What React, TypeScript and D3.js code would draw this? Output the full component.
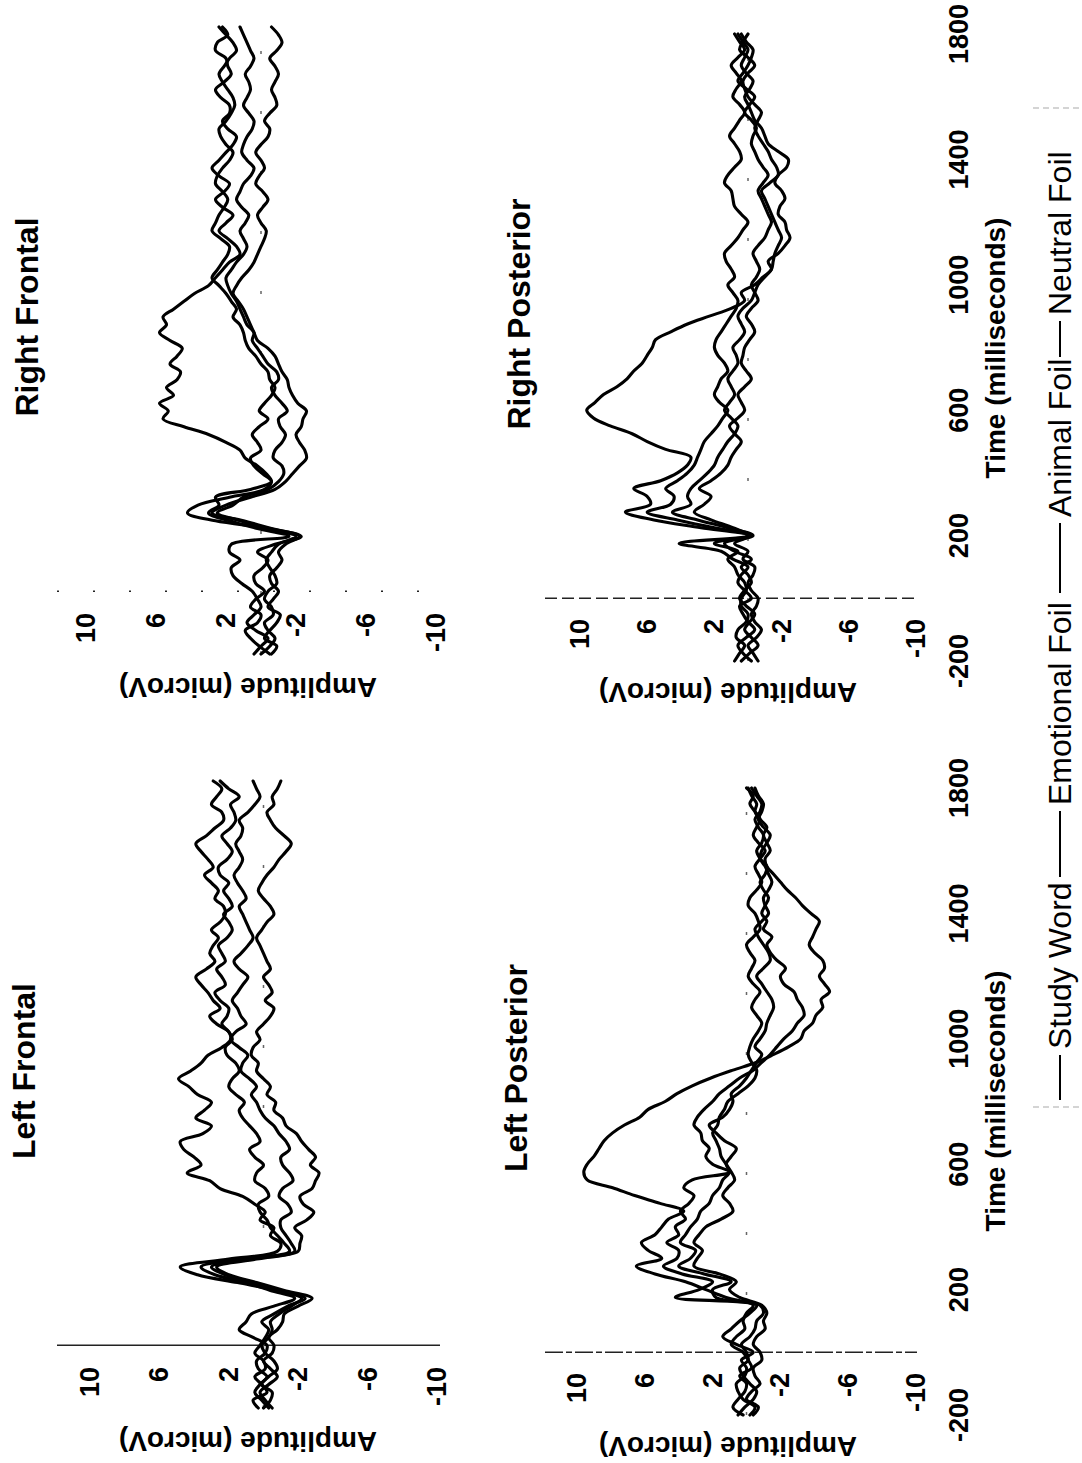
import React from 'react';
import * as d3 from 'd3';

// ---------- data (microvolts, sampled every 25 ms from -200 to 1800 ms) ----------
const times = d3.range(-200, 1801, 25);

const seriesNames = ['Study Word', 'Emotional Foil', 'Animal Foil', 'Neutral Foil'];
const ampTicks = [10, 6, 2, -2, -6, -10];
const timeTicks = [-200, 200, 600, 1000, 1400, 1800];

// Left Frontal
const lfStudy = [0.3,0.6,-0.2,0.1,0.5,-0.1,0.0,0.5,0.2,-0.1,-0.3,0.1,-0.6,
  -1.4,-2.4,-0.8,1.5,3.8,4.8,2.0,-0.8,-1.0,-0.4,
  -0.6,0.2,-0.1,0.5,1.2,2.5,3.1,4.4,3.6,4.0,4.6,4.8,3.5,3.0,3.9,3.4,3.0,3.8,4.3,4.9,4.2,3.6,3.2,2.4,1.9,2.0,2.7,3.1,2.5,2.9,3.2,3.6,3.9,3.3,2.8,3.1,2.9,2.6,3.0,2.5,2.2,2.3,2.8,2.6,3.0,3.4,2.9,3.2,3.6,3.9,3.3,2.8,2.3,2.4,3.0,2.7,2.4,2.9];
const lfEmotional = [-0.3,0.1,0.5,0.2,-0.2,0.3,0.4,-0.1,-0.2,0.6,1.4,1.0,0.7,
  -0.6,-1.8,-0.4,1.0,2.8,3.6,1.2,-1.5,-1.2,-0.8,
  -0.4,-0.2,0.2,0.3,-0.3,-0.1,0.5,0.4,0.0,0.5,0.8,0.2,0.4,0.8,1.2,1.4,1.1,1.6,2.0,1.8,1.4,1.6,2.1,2.2,1.8,2.0,2.4,2.1,2.0,2.5,2.8,2.2,2.4,2.7,2.2,2.4,2.6,2.1,1.8,2.0,2.3,1.8,2.0,2.3,2.0,2.5,2.6,2.1,1.8,2.1,2.4,1.9,1.6,1.7,1.9,1.4,2.0,2.5];
const lfAnimal = [0.0,-0.4,-0.5,0.1,-0.3,-0.8,-0.6,-0.1,0.1,-0.3,-0.5,-0.4,-0.9,
  -1.6,-2.2,-0.6,0.6,2.2,3.0,0.8,-1.8,-1.6,-1.3,
  -1.0,-1.0,-1.6,-1.4,-0.9,-1.1,-1.7,-1.5,-1.1,-1.0,-1.5,-1.3,-0.9,-0.6,-0.1,0.2,0.4,0.7,0.4,0.8,1.3,1.2,0.9,1.4,1.9,1.6,1.0,1.3,1.5,1.8,1.5,1.2,0.9,1.4,1.7,1.3,0.9,0.6,0.8,1.0,1.2,1.4,1.0,1.2,1.5,1.7,1.4,1.2,1.4,1.6,1.3,1.2,1.4,0.9,0.5,0.2,0.4,0.6];
const lfNeutral = [-0.5,-0.1,0.2,-0.3,-0.8,-0.4,0.0,-0.5,-0.6,-0.3,-0.8,-1.1,-1.2,
  -2.0,-2.8,-1.2,0.4,2.0,2.7,0.4,-2.0,-2.1,-2.2,
  -1.8,-2.5,-2.9,-2.3,-2.1,-2.8,-3.0,-3.2,-2.7,-3.0,-2.6,-2.2,-1.9,-1.3,-1.1,-0.6,-0.7,-0.2,-0.4,0.0,0.4,0.3,0.7,0.6,0.2,0.4,0.0,-0.4,-0.6,-0.1,-0.5,-0.3,0.0,-0.4,-0.2,0.0,0.2,0.4,0.1,-0.2,-0.6,-0.4,0.0,0.3,0.1,-0.2,-0.6,-0.9,-1.3,-1.6,-1.2,-0.7,-0.4,-0.2,-0.6,-0.5,-0.8,-1.0];

// Left Posterior
const lpStudy = [0.2,0.8,0.5,0.1,0.0,0.4,-0.3,-0.1,0.2,0.9,0.6,0.1,0.2,
  0.0,-0.4,1.2,2.4,3.6,5.4,6.5,5.0,5.8,6.2,
  5.4,5.0,4.6,3.7,5.1,6.6,7.9,9.4,9.6,9.4,9.0,8.7,8.4,7.9,7.2,6.3,5.8,4.8,4.1,3.2,2.1,0.8,-0.6,-1.6,-2.5,-3.2,-3.4,-3.9,-4.1,-4.5,-4.4,-4.9,-4.6,-4.3,-4.6,-4.5,-4.0,-3.7,-3.9,-4.1,-4.3,-3.8,-3.3,-2.9,-2.4,-2.0,-1.6,-1.2,-1.1,-1.4,-1.2,-1.0,-1.2,-0.8,-0.5,-0.6,-0.3,-0.1];
const lpEmotional = [-0.2,-0.5,0.2,0.5,0.6,0.1,0.0,0.3,-0.4,0.6,1.4,0.9,0.4,
  -0.2,-0.6,4.2,2.8,2.0,3.8,4.9,4.1,4.0,4.7,
  4.0,4.2,3.6,3.9,3.4,3.1,3.7,3.2,1.0,2.0,2.4,2.2,2.6,2.7,3.1,2.9,2.5,2.0,1.6,1.0,0.4,-0.4,-0.9,-1.4,-1.8,-2.2,-2.7,-3.0,-3.4,-3.3,-3.0,-2.8,-2.2,-2.0,-2.3,-1.8,-1.4,-1.2,-1.5,-1.0,-1.2,-0.9,-1.1,-1.3,-1.0,-0.8,-1.1,-1.2,-0.8,-0.6,-0.9,-1.0,-0.7,-0.5,-0.8,-0.9,-0.6,-0.3];
const lpAnimal = [0.5,0.1,-0.4,-0.6,-0.2,0.2,0.4,-0.1,0.0,0.3,-0.2,-0.5,-0.6,
  -1.0,-0.8,1.8,2.0,0.9,2.5,4.0,3.3,3.0,3.9,
  3.6,3.3,2.9,2.7,2.2,2.0,1.6,1.4,1.0,1.2,0.9,0.6,1.3,1.8,2.2,1.4,1.0,0.8,0.9,0.4,0.0,-0.3,-0.6,-0.9,-0.5,-0.8,-1.1,-1.2,-1.4,-1.6,-1.5,-1.2,-0.9,-0.6,-1.0,-1.4,-1.3,-1.0,-0.7,-0.5,-0.9,-1.3,-1.1,-1.0,-1.3,-1.5,-1.3,-1.1,-0.8,-0.9,-1.2,-1.4,-1.0,-0.7,-0.9,-1.0,-0.7,-0.5];
const lpNeutral = [-0.4,-0.7,0.0,-0.3,-0.8,-0.5,-0.4,-0.9,-0.8,-0.4,-0.6,-1.1,-1.0,
  -1.2,-0.9,0.4,1.0,0.6,1.6,3.1,2.9,2.6,3.1,
  2.8,2.4,1.5,0.8,1.0,1.4,1.1,0.7,0.9,1.2,1.5,1.6,1.8,2.0,1.7,1.6,1.3,1.1,0.5,-0.1,-0.5,-0.6,-0.3,-0.1,-0.2,-0.4,-0.7,-0.9,-0.6,-0.3,-0.5,-0.8,-0.4,-0.1,-0.3,-0.5,-0.2,0.0,-0.4,-0.8,-0.7,-0.5,-0.1,-0.2,-0.6,-0.9,-0.7,-0.5,-0.8,-1.1,-0.7,-0.4,-0.6,-0.8,-0.5,-0.2,-0.4,0.0];

// Right Frontal
const rfStudy = [-0.5,0.1,0.6,0.9,0.2,0.0,0.6,0.3,-0.2,0.3,0.4,-0.1,-0.4,
  0.2,-0.8,-2.3,-0.5,2.6,4.2,3.6,1.8,-0.2,-0.6,
  -0.3,0.2,0.9,1.2,2.0,3.0,4.4,5.6,5.3,5.8,5.0,5.4,4.8,4.6,5.2,4.8,4.5,5.2,5.8,5.4,5.6,5.0,4.4,3.8,3.0,2.6,2.2,1.8,1.2,1.4,1.9,2.4,2.0,1.6,2.2,2.6,2.1,1.8,2.4,2.8,2.4,2.0,1.6,1.4,1.9,2.2,1.8,1.8,2.3,2.6,2.1,1.7,1.9,2.0,2.6,2.5,1.9,2.2];
const rfEmotional = [0.4,0.0,-0.4,0.3,0.8,0.4,0.0,0.2,0.5,1.1,1.6,1.7,1.2,
  1.8,1.7,-1.6,0.2,1.8,3.0,2.4,2.6,0.6,-0.6,
  -0.1,0.4,0.6,0.0,0.2,0.5,0.1,-0.4,0.1,-0.2,-0.6,-0.8,-0.5,-0.4,0.0,0.3,0.7,0.9,1.0,1.2,1.6,1.4,1.7,2.0,2.4,2.8,2.5,2.2,1.9,1.8,2.3,2.8,2.6,2.4,2.1,1.9,2.2,2.6,2.5,2.2,1.8,1.6,2.0,2.3,2.4,2.0,1.7,1.5,1.6,1.9,2.2,2.4,2.1,1.8,1.4,1.6,2.0,2.4];
const rfAnimal = [0.0,-0.5,-0.8,-0.4,-0.2,-0.7,-0.6,-0.2,-0.4,-0.9,-0.8,-0.5,-0.3,
  -0.6,-1.0,-2.0,-0.2,1.2,2.5,1.6,1.0,-0.4,-1.0,
  -1.3,-1.2,-0.7,-0.8,-1.2,-1.4,-1.1,-1.0,-1.5,-1.2,-0.8,-0.6,-1.0,-0.9,-0.4,-0.1,0.2,0.5,0.4,0.8,1.0,1.2,1.4,1.7,1.9,2.0,1.7,1.4,1.0,0.8,1.0,1.2,0.9,0.7,1.1,1.4,1.2,1.0,0.6,0.4,0.8,1.1,1.0,0.8,0.5,0.4,0.7,1.0,0.8,0.6,0.7,0.9,0.6,0.4,0.6,0.8,1.0,1.2];
const rfNeutral = [-0.6,-0.9,-0.2,-0.5,-0.9,-1.1,-0.4,-0.7,-1.0,-0.6,-0.5,-0.9,-1.2,
  -1.0,-1.4,-2.2,-0.6,1.0,2.8,2.0,0.6,-0.8,-1.4,
  -1.8,-2.2,-2.6,-2.5,-2.2,-2.0,-2.3,-2.4,-2.6,-2.1,-1.8,-1.6,-1.5,-1.2,-1.0,-0.8,-0.4,0.2,0.4,0.6,0.8,1.0,1.3,1.6,1.4,1.1,0.7,0.4,0.2,0.0,-0.2,-0.3,0.0,0.2,-0.1,-0.4,-0.1,0.3,0.1,-0.2,0.0,0.3,0.0,-0.4,-0.5,-0.2,-0.5,-0.9,-0.8,-0.6,-0.8,-1.0,-0.8,-0.5,-0.9,-1.2,-1.0,-0.6];

// Right Posterior
const rpStudy = [0.8,0.5,0.2,0.7,0.6,0.1,0.0,0.4,0.4,0.1,0.2,0.6,0.8,
  1.2,0.6,2.0,0.0,2.8,5.6,7.3,5.8,6.0,6.8,
  5.2,4.2,3.6,3.4,4.9,6.0,6.9,8.2,9.2,9.6,9.1,8.6,7.8,7.2,6.8,6.3,6.0,5.7,5.5,4.6,3.6,2.3,1.0,0.2,0.4,-0.4,-0.9,-1.4,-1.2,-1.8,-2.2,-2.5,-2.3,-2.2,-1.8,-1.9,-2.2,-2.0,-1.6,-1.8,-2.3,-2.4,-1.8,-1.2,-1.0,-0.8,-0.4,-0.2,0.0,0.2,-0.1,-0.3,0.1,0.4,0.2,0.0,0.3,0.6];
const rpEmotional = [-0.2,0.3,0.6,0.1,-0.4,0.0,0.3,0.5,-0.2,0.2,0.6,0.4,0.0,
  0.9,1.6,4.1,-0.2,2.0,4.2,6.0,4.6,4.4,4.9,
  4.2,3.6,3.2,3.0,2.8,2.6,2.2,1.8,1.5,1.2,1.7,2.0,1.8,1.6,1.2,1.4,1.8,2.0,1.9,1.6,1.3,1.0,0.7,0.6,0.9,1.2,0.8,1.0,1.3,1.4,1.0,0.6,0.3,0.0,0.4,0.8,0.9,1.0,1.4,1.2,0.8,0.4,0.5,0.8,1.1,0.8,0.5,0.2,0.5,0.9,0.7,0.4,0.7,1.0,0.6,0.2,0.5,0.8];
const rpAnimal = [0.4,-0.1,-0.6,-0.2,0.2,-0.1,-0.4,0.1,0.5,0.2,-0.2,0.0,0.4,
  -0.2,0.8,1.4,-0.3,1.2,3.0,4.5,3.4,3.6,3.4,
  2.9,2.4,2.0,1.8,1.5,1.2,0.8,0.6,1.0,1.4,1.1,0.8,1.0,1.2,0.9,0.6,0.7,0.9,0.5,0.2,0.4,0.6,0.3,-0.2,-0.4,-0.6,-1.0,-1.4,-1.5,-1.6,-1.8,-2.0,-1.8,-1.6,-1.4,-1.2,-1.0,-0.8,-1.3,-1.8,-1.7,-1.4,-1.2,-0.9,-0.6,-0.4,-0.6,-0.8,-0.4,0.0,0.2,0.3,0.0,-0.4,0.0,0.5,0.3,0.0];
const rpNeutral = [-0.6,-0.3,0.0,-0.5,-0.8,-0.4,-0.2,-0.5,-0.6,-0.2,0.0,-0.3,-0.4,
  0.3,0.0,0.8,-0.1,0.9,2.2,3.2,2.6,2.2,2.9,
  2.2,1.6,1.2,1.0,0.7,0.4,0.8,1.1,0.6,0.2,0.4,0.6,0.2,-0.2,0.1,0.4,0.3,0.2,-0.1,-0.4,-0.2,0.1,-0.2,-0.6,-0.4,-0.2,-0.5,-0.7,-0.5,-0.3,-0.6,-1.0,-1.2,-1.4,-1.2,-1.0,-0.8,-0.6,-0.9,-1.2,-0.9,-0.6,-0.4,-0.2,-0.3,-0.5,-0.2,0.2,-0.1,-0.4,0.1,0.6,0.3,0.0,-0.2,-0.3,0.1,0.4];

// ---------- layout (figure drawn unrotated, then turned -90deg) ----------
const FW = 1463; // unrotated width  (= page height)
const FH = 1082; // unrotated height (= page width)
const FONT = "'Liberation Sans', Arial, Helvetica, sans-serif";

const panels = [
  { title: 'Left Frontal', series: [lfStudy, lfEmotional, lfAnimal, lfNeutral],
    xRange: [55, 682], yRange: [90, 437], tickX: 96, titleX: 392, titleY: 35,
    ampX: 31, ampY: 248, zeroY: [57, 440], zeroDash: '', showTime: false, timeTitleX: 0 },
  { title: 'Left Posterior', series: [lpStudy, lpEmotional, lpAnimal, lpNeutral],
    xRange: [48, 675], yRange: [577, 916], tickX: 90, titleX: 395, titleY: 527,
    ampX: 26, ampY: 728, zeroY: [545, 917], zeroDash: '18 3 6 3', showTime: true, timeTitleX: 362 },
  { title: 'Right Frontal', series: [rfStudy, rfEmotional, rfAnimal, rfNeutral],
    xRange: [809, 1436], yRange: [86, 436], tickX: 850, titleX: 1146, titleY: 38,
    ampX: 785, ampY: 248, zeroY: [57, 440], zeroDash: '2 34', showTime: false, timeTitleX: 0 },
  { title: 'Right Posterior', series: [rpStudy, rpEmotional, rpAnimal, rpNeutral],
    xRange: [802, 1429], yRange: [580, 916], tickX: 844, titleX: 1149, titleY: 530,
    ampX: 780, ampY: 728, zeroY: [545, 917], zeroDash: '12 5', showTime: true, timeTitleX: 1115 },
];

const legendLineX = [[363, 408], [586, 652], [870, 940], [1106, 1142]];
const legendTextX = [414, 658, 946, 1148];

function Panel({ p }: { p: any }) {
  const x = d3.scaleLinear().domain([-200, 1800]).range(p.xRange);
  const y = d3.scaleLinear().domain([10, -10]).range(p.yRange);
  const line = d3
    .line<number>()
    .x((_, i) => x(times[i]))
    .y((v) => y(v))
    .curve(d3.curveCatmullRom.alpha(0.5));
  return (
    <g>
      <line x1={x(0)} x2={x(0)} y1={p.zeroY[0]} y2={p.zeroY[1]} stroke="#222"
        strokeWidth={1.5} strokeDasharray={p.zeroDash || undefined} />
      <line x1={x(-200)} x2={x(1800)} y1={y(0)} y2={y(0)} stroke="#666"
        strokeWidth={1.5} strokeDasharray="3 57" />
      {p.series.map((s: number[], i: number) => (
        <path key={i} d={line(s.slice(0, times.length)) || ''} fill="none" stroke="#000"
          strokeWidth={3.1} strokeLinejoin="round" strokeLinecap="round" />
      ))}
      {ampTicks.map((t) => (
        <text key={t} x={p.tickX} y={y(t)} textAnchor="end" dominantBaseline="central"
          fontFamily={FONT} fontWeight="bold" fontSize={27}>{t}</text>
      ))}
      <text transform={`translate(${p.ampX},${p.ampY}) rotate(-90)`} textAnchor="middle"
        fontFamily={FONT} fontWeight="bold" fontSize={28}>Amplitude (microV)</text>
      <text x={p.titleX} y={p.titleY} textAnchor="middle" fontFamily={FONT}
        fontWeight="bold" fontSize={32}>{p.title}</text>
      {p.showTime && timeTicks.map((t) => (
        <text key={t} x={x(t)} y={968} textAnchor="middle" fontFamily={FONT}
          fontWeight="bold" fontSize={27}>{t}</text>
      ))}
      {p.showTime && (
        <text x={p.timeTitleX} y={1005} textAnchor="middle" fontFamily={FONT}
          fontWeight="bold" fontSize={28}>Time (milliseconds)</text>
      )}
    </g>
  );
}

export default function App() {
  return (
    <svg width={FH} height={FW} style={{ position: 'absolute', left: 0, top: 0, background: '#fff' }}>
      <rect x={0} y={0} width={FH} height={FW} fill="#fff" />
      <g transform={`translate(0,${FW}) rotate(-90)`}>
        {panels.map((p, i) => <Panel key={i} p={p} />)}
        <line x1={356} x2={356} y1={1033} y2={FH} stroke="#aaa" strokeWidth={1.2} strokeDasharray="6 4" />
        <line x1={1355} x2={1355} y1={1033} y2={FH} stroke="#aaa" strokeWidth={1.2} strokeDasharray="6 4" />
        {seriesNames.map((n, i) => (
          <g key={n}>
            <line x1={legendLineX[i][0]} x2={legendLineX[i][1]} y1={1060} y2={1060}
              stroke="#000" strokeWidth={2} />
            <text x={legendTextX[i]} y={1071} fontFamily={FONT} fontSize={32}>{n}</text>
          </g>
        ))}
      </g>
    </svg>
  );
}
